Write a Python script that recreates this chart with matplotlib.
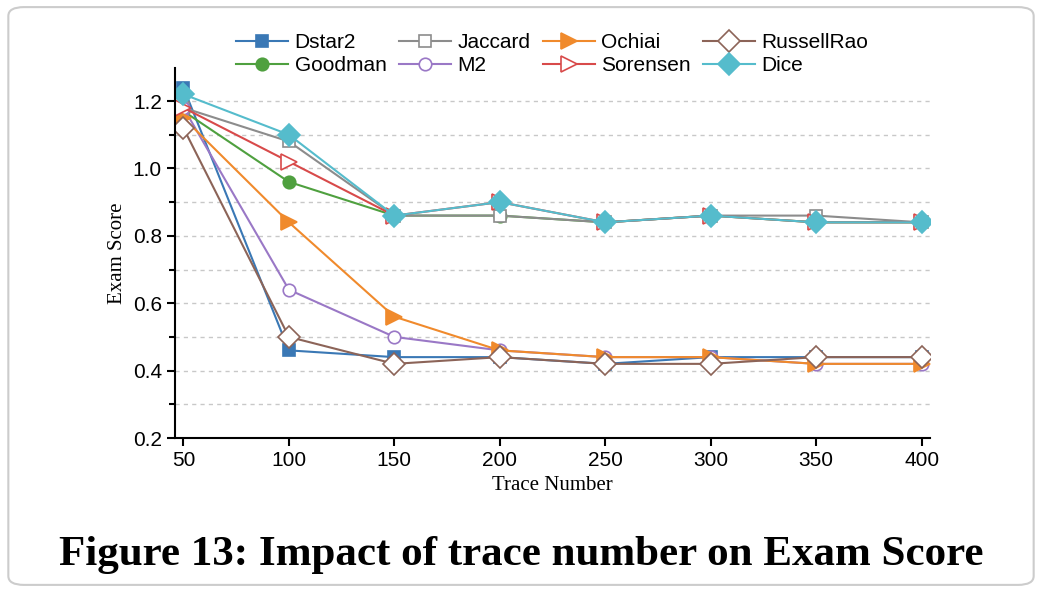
import matplotlib
matplotlib.use('Agg')
from matplotlib import pyplot as plt
from matplotlib.patches import FancyBboxPatch
from matplotlib.ticker import MultipleLocator

x = [50, 100, 150, 200, 250, 300, 350, 400]
dstar2 = [1.24, 0.46, 0.44, 0.44, 0.42, 0.44, 0.44, 0.44]
goodman = [1.17, 0.96, 0.86, 0.86, 0.84, 0.86, 0.84, 0.84]
jaccard = [1.18, 1.08, 0.86, 0.86, 0.84, 0.86, 0.86, 0.84]
m2 = [1.18, 0.64, 0.50, 0.46, 0.44, 0.44, 0.42, 0.42]
ochiai = [1.15, 0.84, 0.56, 0.46, 0.44, 0.44, 0.42, 0.42]
sorensen = [1.18, 1.02, 0.86, 0.90, 0.84, 0.86, 0.84, 0.84]
russellrao = [1.12, 0.50, 0.42, 0.44, 0.42, 0.42, 0.44, 0.44]
dice = [1.22, 1.10, 0.86, 0.90, 0.84, 0.86, 0.84, 0.84]

series = [
    ('Dstar2', dstar2, '#3a78b5', 's', True),
    ('Goodman', goodman, '#4fa03f', 'o', True),
    ('Jaccard', jaccard, '#8c8c8c', 's', False),
    ('M2', m2, '#9a78c6', 'o', False),
    ('Ochiai', ochiai, '#f08a2c', '>', True),
    ('Sorensen', sorensen, '#d84a4a', '>', False),
    ('RussellRao', russellrao, '#8c6458', 'D', False),
    ('Dice', dice, '#55bccc', 'D', True),
]

fig = plt.figure(figsize=(10.42, 5.92), dpi=100)
border = FancyBboxPatch((0.008, 0.012), 0.984, 0.976, boxstyle='round,pad=0,rounding_size=0.015',
                        transform=fig.transFigure, fc='white', ec='#cccccc', lw=1.5, zorder=-10)
fig.patches.append(border)
ax = fig.add_axes([175 / 1042, 1 - 438 / 592, 755 / 1042, 370 / 592])
ax.set_facecolor('none')

for name, ys, c, m, filled in series:
    ms = 11 if m in ('D', '>') else 9
    ax.plot(x, ys, color=c, marker=m, markersize=ms, lw=1.5, label=name,
            markerfacecolor=c if filled else 'white', markeredgecolor=c, markeredgewidth=1.2)

ax.set_xlim(46, 404)
ax.set_ylim(0.2, 1.298)
ax.set_xticks(x)
ax.yaxis.set_major_locator(MultipleLocator(0.2))
ax.yaxis.set_minor_locator(MultipleLocator(0.1))
ax.yaxis.set_major_formatter(matplotlib.ticker.FormatStrFormatter('%.1f'))
for yv in [0.3, 0.4, 0.5, 0.6, 0.7, 0.8, 0.9, 1.0, 1.1, 1.2]:
    ax.axhline(yv, color='#c8c8c8', ls=(0, (3, 3)), lw=1, zorder=0)
for s in ['top', 'right']:
    ax.spines[s].set_visible(False)
for s in ['left', 'bottom']:
    ax.spines[s].set_linewidth(1.5)
ax.tick_params(axis='both', which='major', labelsize=15, width=1.5, length=6)
ax.tick_params(axis='y', which='minor', width=1.5, length=4)
for lab in ax.get_xticklabels() + ax.get_yticklabels():
    lab.set_fontfamily('Liberation Sans')
ax.set_xlabel('Trace Number', fontsize=15, family='Liberation Serif')
ax.set_ylabel('Exam Score', fontsize=15, family='Liberation Serif')

ax.legend(ncol=4, loc='lower center', bbox_to_anchor=(0.5, 0.93), frameon=False,
          prop={'family': 'Liberation Sans', 'size': 15}, handlelength=2.5,
          columnspacing=0.6, handletextpad=0.3, labelspacing=0.2)

fig.text(0.5, 0.045, 'Figure 13: Impact of trace number on Exam Score', ha='center',
         fontsize=31, fontweight='bold', family='Liberation Serif')

fig.savefig('out.png', dpi=100)
